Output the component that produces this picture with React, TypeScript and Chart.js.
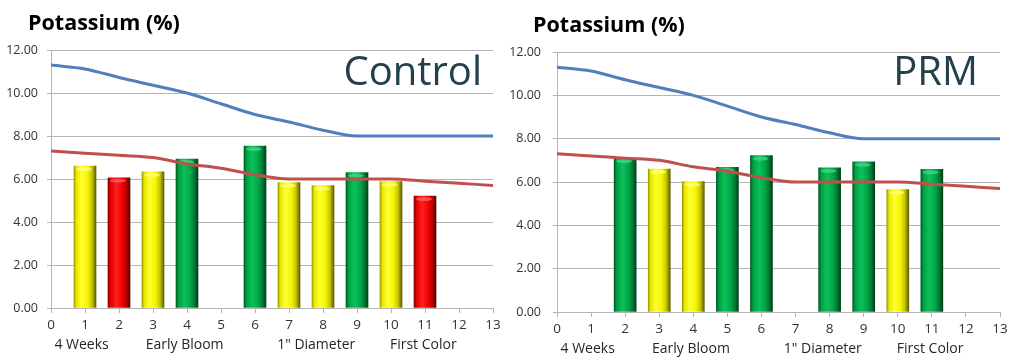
import React, { useEffect, useRef } from 'react';
import { Chart, registerables } from 'chart.js';

Chart.register(...registerables);

// ---- data ----
const weeks = [0, 1, 2, 3, 4, 5, 6, 7, 8, 9, 10, 11, 12, 13];
const upperLimit = [11.3, 11.12, 10.72, 10.36, 10.0, 9.5, 9.0, 8.65, 8.27, 8.0, 8.0, 8.0, 8.0, 8.0];
const lowerLimit = [7.3, 7.2, 7.1, 7.0, 6.7, 6.5, 6.2, 6.0, 6.0, 6.0, 6.0, 5.9, 5.8, 5.7];

const stageLabels = ['4 Weeks', 'Early Bloom', '1" Diameter', 'First Color'];
const stagePositions = [0.9, 3.93, 7.8, 10.95];

const controlWeeks = [1, 2, 3, 4, 6, 7, 8, 9, 10, 11];
const controlValues = [6.6, 6.06, 6.33, 6.93, 7.53, 5.83, 5.69, 6.3, 5.88, 5.21];
const controlRatings = ['yellow', 'red', 'yellow', 'green', 'green', 'yellow', 'yellow', 'green', 'yellow', 'red'];

const prmWeeks = [2, 3, 4, 5, 6, 8, 9, 10, 11];
const prmValues = [7.1, 6.6, 6.02, 6.68, 7.22, 6.65, 6.93, 5.65, 6.59];
const prmRatings = ['green', 'yellow', 'yellow', 'green', 'green', 'green', 'green', 'yellow', 'green'];

const chartTitle = 'Potassium (%)';

// ---- styles ----
const FONT = "'Open Sans', 'Noto Sans', sans-serif";
const BAR_W = 22;

const gradStops: Record<string, [number, string][]> = {
  yellow: [[0, '#9a9a00'], [0.1, '#e6e600'], [0.35, '#ffff30'], [0.62, '#f4f400'], [0.82, '#c4c400'], [1, '#5e5e00']],
  green: [[0, '#005a26'], [0.12, '#00a043'], [0.38, '#0cc05a'], [0.64, '#00a848'], [0.84, '#007a33'], [1, '#003f19']],
  red: [[0, '#8c0000'], [0.12, '#e40000'], [0.38, '#ff2020'], [0.64, '#f20000'], [0.84, '#b40000'], [1, '#560000']],
};
const capColor: Record<string, string> = { yellow: '#ffff90', green: '#4ad88a', red: '#ff6a6a' };
const solid: Record<string, string> = { yellow: '#ffff00', green: '#00b050', red: '#ff0000' };

type PanelProps = {
  name: string;
  barWeeks: number[];
  values: number[];
  ratings: string[];
  left: number;
  width: number;
  padTop: number;
  padRight: number;
  yWidth: number;
  xHeight: number;
  yLabelPad: number;
  titleBaseline: number;
  nameRight: number;
  nameBaseline: number;
};

function Panel(p: PanelProps) {
  const ref = useRef<HTMLCanvasElement>(null);
  useEffect(() => {
    const canvas = ref.current!;
    const ratings = p.ratings;

    const barFill = (ctx: any) => {
      const idx = ctx.dataIndex;
      const rating = ratings[idx] || 'green';
      if (ctx.type !== 'data') return solid[rating];
      const xs = ctx.chart.scales && ctx.chart.scales.x;
      if (!xs || !ctx.raw) return solid[rating];
      const px = xs.getPixelForValue(ctx.raw.x);
      if (!isFinite(px)) return solid[rating];
      const g = ctx.chart.ctx.createLinearGradient(px - BAR_W / 2, 0, px + BAR_W / 2, 0);
      gradStops[rating].forEach(([o, c]) => g.addColorStop(o, c));
      return g;
    };

    const decor = {
      id: 'decor',
      afterDatasetDraw(chart: any, args: any) {
        if (args.meta.type !== 'bar') return;
        const c = chart.ctx;
        c.save();
        args.meta.data.forEach((el: any, i: number) => {
          const w = el.width;
          c.fillStyle = capColor[ratings[i]];
          c.globalAlpha = 0.7;
          c.beginPath();
          c.ellipse(el.x - 1, el.y + 3, w / 2 - 3, 2, 0, 0, Math.PI * 2);
          c.fill();
        });
        c.restore();
      },
      afterDraw(chart: any) {
        const c = chart.ctx;
        const area = chart.chartArea;
        const xs = chart.scales.x;
        c.save();
        c.fillStyle = '#000';
        c.font = `bold 21.5px ${FONT}`;
        c.textAlign = 'left';
        c.textBaseline = 'alphabetic';
        c.fillText(chartTitle, 28, p.titleBaseline);

        c.fillStyle = '#24404d';
        c.font = `40px ${FONT}`;
        c.textAlign = 'right';
        c.fillText(p.name, p.nameRight, p.nameBaseline);

        c.fillStyle = '#262626';
        c.font = `14px ${FONT}`;
        c.textAlign = 'center';
        c.textBaseline = 'middle';
        stageLabels.forEach((s, i) => {
          c.fillText(s, xs.getPixelForValue(stagePositions[i]), area.bottom + 37);
        });
        c.restore();
      },
    };

    const chart = new Chart(canvas, {
      type: 'bar',
      data: {
        datasets: [
          {
            type: 'line',
            label: 'Upper',
            data: weeks.map((w, i) => ({ x: w, y: upperLimit[i] })),
            borderColor: '#4f7fbd',
            borderWidth: 3,
            pointRadius: 0,
            cubicInterpolationMode: 'monotone',
            order: 0,
          } as any,
          {
            type: 'line',
            label: 'Lower',
            data: weeks.map((w, i) => ({ x: w, y: lowerLimit[i] })),
            borderColor: '#c0504d',
            borderWidth: 3,
            pointRadius: 0,
            cubicInterpolationMode: 'monotone',
            order: 0,
          } as any,
          {
            type: 'bar',
            label: p.name,
            data: p.barWeeks.map((w, i) => ({ x: w, y: p.values[i] })),
            backgroundColor: barFill,
            barThickness: BAR_W,
            order: 1,
          } as any,
        ],
      },
      options: {
        responsive: false,
        animation: false,
        devicePixelRatio: 1,
        layout: { padding: { top: p.padTop, right: p.padRight, left: 0, bottom: 0 } },
        plugins: {
          legend: { display: false },
          tooltip: { enabled: false },
          title: { display: false },
        },
        scales: {
          x: {
            type: 'linear',
            min: 0,
            max: 13,
            offset: false,
            ticks: {
              stepSize: 1,
              color: '#333',
              font: { family: FONT, size: 13.5 },
              padding: 4,
              maxRotation: 0,
              autoSkip: false,
            },
            grid: {
              offset: false,
              drawOnChartArea: false,
              drawTicks: true,
              tickLength: 5,
              color: '#b5b5b5',
            },
            border: { color: '#b5b5b5', width: 1 },
            afterFit: (s: any) => {
              s.height = p.xHeight;
            },
          } as any,
          y: {
            min: 0,
            max: 12,
            ticks: {
              stepSize: 2,
              color: '#333',
              font: { family: FONT, size: 12.5 },
              padding: p.yLabelPad,
              callback: (v: any) => Number(v).toFixed(2),
            },
            grid: { color: '#b5b5b5', tickLength: 4 },
            border: { color: '#b5b5b5', width: 1 },
            afterFit: (s: any) => {
              s.width = p.yWidth;
            },
          } as any,
        },
      },
      plugins: [decor],
    });
    return () => chart.destroy();
  }, []);
  return (
    <canvas
      ref={ref}
      width={p.width}
      height={363}
      style={{ position: 'absolute', left: p.left, top: 0, width: p.width, height: 363 }}
    />
  );
}

export default function App() {
  return (
    <div style={{ position: 'fixed', left: 0, top: 0, width: 1024, height: 363, background: '#fff', overflow: 'hidden' }}>
      <Panel
        name="Control"
        barWeeks={controlWeeks}
        values={controlValues}
        ratings={controlRatings}
        left={0}
        width={505}
        padTop={50}
        padRight={12}
        yWidth={51}
        xHeight={55}
        yLabelPad={9}
        titleBaseline={30}
        nameRight={482}
        nameBaseline={85}
      />
      <Panel
        name="PRM"
        barWeeks={prmWeeks}
        values={prmValues}
        ratings={prmRatings}
        left={505}
        width={519}
        padTop={52}
        padRight={24}
        yWidth={52}
        xHeight={51}
        yLabelPad={12}
        titleBaseline={31.5}
        nameRight={473}
        nameBaseline={85}
      />
    </div>
  );
}
